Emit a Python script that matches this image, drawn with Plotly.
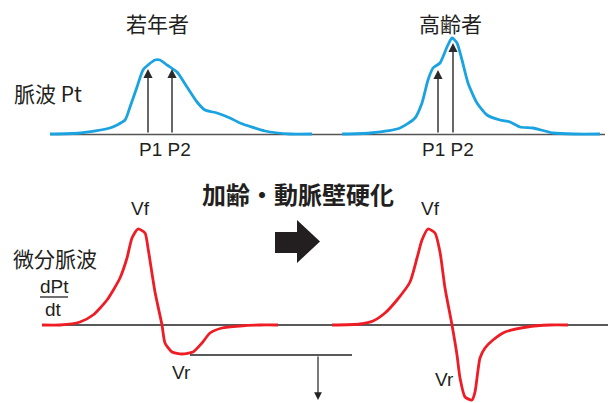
import plotly.graph_objects as go

# ---- data (diagram coordinates: x to the right, y downward) ----
young_pulse_x = [50, 80, 110, 125, 130, 137, 143, 148, 155, 160, 167, 177, 187, 197, 205, 217, 230, 240, 265, 290, 312]
young_pulse_y = [134, 133, 128, 120, 107, 87, 70, 65, 60, 60, 65, 72, 87, 102, 110, 113, 118, 123, 131, 134, 134]

old_pulse_x = [342, 370, 400, 415, 422, 428, 433, 440, 447, 452, 457, 462, 468, 477, 487, 500, 510, 520, 533, 553, 575, 600]
old_pulse_y = [134, 133, 128, 118, 103, 80, 68, 63, 47, 38, 43, 60, 83, 103, 115, 120, 122, 127, 128, 133, 134, 134]

young_deriv_x = [42, 60, 80, 93, 107, 120, 127, 132, 138, 145, 148, 155, 162, 165, 172, 182, 193, 202, 210, 222, 240, 260, 278]
young_deriv_y = [325, 325, 322, 315, 300, 278, 258, 238, 229, 233, 248, 292, 325, 343, 352, 354, 352, 343, 333, 328, 326, 325, 325]

old_deriv_x = [332, 360, 373, 385, 397, 410, 417, 422, 428, 435, 440, 445, 452, 457, 460, 465, 472, 475, 480, 485, 493, 505, 527, 550, 568]
old_deriv_y = [325, 324, 321, 313, 300, 282, 258, 240, 229, 233, 252, 288, 325, 355, 378, 397, 400, 392, 358, 348, 340, 332, 327, 325, 325]

peak_arrows = [  # (x, tip_y, base_y)
    (148, 69, 134), (172, 69, 134), (438, 70, 134), (453, 43, 134),
]

labels = [  # text, x, y, size, bold, latin
    ("若年者", 157, 23, 21, False, False),
    ("高齢者", 450, 23, 21, False, False),
    ("脈波 Pt", 48, 93, 21, False, False),
    ("P1 P2", 165, 149, 19, False, True),
    ("P1 P2", 448, 149, 19, False, True),
    ("加齢・動脈壁硬化", 298, 193, 24, True, False),
    ("Vf", 140, 208, 19, False, True),
    ("Vf", 430, 208, 19, False, True),
    ("Vr", 181, 372, 19, False, True),
    ("Vr", 444, 379, 19, False, True),
    ("微分脈波", 55, 258, 21, False, False),
    ("dPt", 54, 286, 19, False, True),
    ("dt", 53, 309, 19, False, True),
]

BLUE = "#1AA3E0"
RED = "#EE1C25"
CJK = "Noto Sans CJK JP"
LATIN = "Liberation Sans"

fig = go.Figure()

# baselines
fig.add_trace(go.Scatter(x=[50, 605], y=[134.5, 134.5], mode="lines",
                         line=dict(color="#555555", width=1.3), hoverinfo="skip"))
fig.add_trace(go.Scatter(x=[42, 608], y=[325, 325], mode="lines",
                         line=dict(color="#222222", width=1.3), hoverinfo="skip"))
fig.add_trace(go.Scatter(x=[190, 352], y=[355, 355], mode="lines",
                         line=dict(color="#222222", width=1.3), hoverinfo="skip"))
# fraction bar
fig.add_trace(go.Scatter(x=[40, 68], y=[297, 297], mode="lines",
                         line=dict(color="#222222", width=1.3), hoverinfo="skip"))

for xs, ys, c in [(young_pulse_x, young_pulse_y, BLUE), (old_pulse_x, old_pulse_y, BLUE),
                  (young_deriv_x, young_deriv_y, RED), (old_deriv_x, old_deriv_y, RED)]:
    fig.add_trace(go.Scatter(x=xs, y=ys, mode="lines",
                             line=dict(color=c, width=2.8, shape="spline", smoothing=0.6),
                             hoverinfo="skip"))

# P arrows
for x, tip, base in peak_arrows:
    fig.add_annotation(x=x, y=tip, ax=x, ay=base, xref="x", yref="y", axref="x", ayref="y",
                       text="", showarrow=True, arrowhead=2, arrowsize=1.3, arrowwidth=1.4,
                       arrowcolor="#2a2a2a", standoff=0, startstandoff=0)
# downward arrow
fig.add_annotation(x=318, y=400, ax=318, ay=355, xref="x", yref="y", axref="x", ayref="y",
                   text="", showarrow=True, arrowhead=2, arrowsize=1.3, arrowwidth=1.2,
                   arrowcolor="#222222", standoff=0)

# big block arrow
fig.add_shape(type="path",
              path="M 275 232 L 297 232 L 297 220 L 320 241.5 L 297 263 L 297 253 L 275 253 Z",
              xref="x", yref="y", fillcolor="#231f20", line=dict(width=0))

for t, x, y, s, b, latin in labels:
    fig.add_annotation(x=x, y=y, text=(f"<b>{t}</b>" if b else t), showarrow=False,
                       xref="x", yref="y", xanchor="center", yanchor="middle",
                       font=dict(family=LATIN if latin else CJK, size=s, color="#231f20"))

fig.update_xaxes(range=[0, 612], visible=False, fixedrange=True)
fig.update_yaxes(range=[403, 0], visible=False, fixedrange=True)
fig.update_layout(width=612, height=403, margin=dict(l=0, r=0, t=0, b=0),
                  plot_bgcolor="white", paper_bgcolor="white", showlegend=False)

fig.write_html("out.html", config={"displayModeBar": False},
               post_script="document.body.style.margin='0';document.body.style.overflow='hidden';")
